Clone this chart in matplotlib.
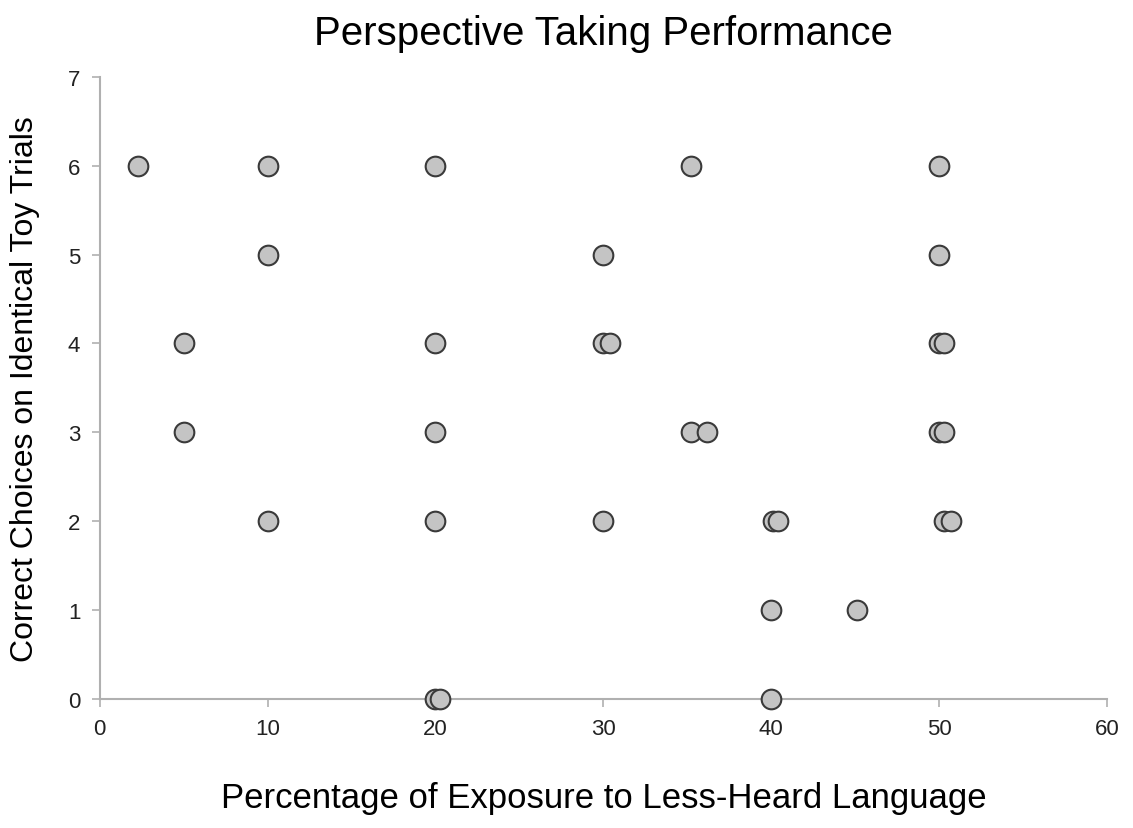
import matplotlib.pyplot as plt

plt.rcParams['font.family'] = ['Liberation Sans', 'DejaVu Sans']

# exposure (%) and correct choices
exposure = [2.3, 10, 10, 5, 5, 10,
            20, 20, 20, 20, 20, 20.3,
            30, 30, 30.4, 30,
            35.2, 35.2, 36.2,
            40.1, 40.4, 40, 40, 45.1,
            50, 50, 50, 50.3, 50, 50.3, 50.3, 50.7]
correct = [6, 6, 5, 4, 3, 2,
           6, 4, 3, 2, 0, 0,
           5, 4, 4, 2,
           6, 3, 3,
           2, 2, 1, 0, 1,
           6, 5, 4, 4, 3, 3, 2, 2]

fig = plt.figure(figsize=(11.33, 8.29), dpi=100)
ax = fig.add_axes([0.088, 0.156, 0.889, 0.75])

ax.scatter(exposure, correct, s=200, facecolor='#c4c4c4', edgecolor='#3a3a3a',
           linewidth=1.5, zorder=3, clip_on=False)

ax.set_xlim(0, 60)
ax.set_ylim(0, 7)
ax.set_xticks(range(0, 61, 10))
ax.set_yticks(range(0, 8))
for s in ['top', 'right']:
    ax.spines[s].set_visible(False)
for s in ['left', 'bottom']:
    ax.spines[s].set_color('#b0b0b0')
    ax.spines[s].set_linewidth(1.5)
ax.tick_params(direction='out', length=6, width=1.2, color='#b0b0b0',
               labelsize=16, labelcolor='#222222', pad=8)

ax.set_title('Perspective Taking Performance', fontsize=29, pad=24)
ax.set_xlabel('Percentage of Exposure to Less-Heard Language', fontsize=25, labelpad=30)
ax.set_ylabel('Correct Choices on Identical Toy Trials', fontsize=23, labelpad=20)

fig.savefig('out.png', dpi=100)
